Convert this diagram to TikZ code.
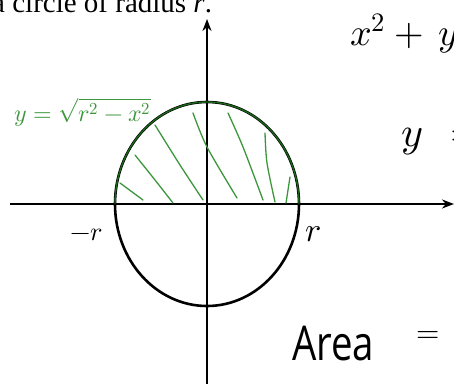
\documentclass[tikz,border=0pt]{standalone}
\usepackage{amsmath}
\usepackage{fontspec}
\usepackage{unicode-math}
\setmainfont{Liberation Serif}
\setmathfont{Latin Modern Math}
\newfontfamily\handfont{Open Sans}
\usetikzlibrary{arrows.meta}
\definecolor{hgreen}{RGB}{60,150,60}
\definecolor{dgreen}{RGB}{25,100,25}

\begin{document}
\begin{tikzpicture}[x=1pt, y=-1pt, >={Stealth[length=12pt,width=9pt]}]
		\tikzset{ax/.style={line width=2.6pt, ->}}
		\tikzset{hatch/.style={draw=hgreen, line width=1.3pt, line cap=round}}
		\tikzset{hand/.style={inner sep=0pt, anchor=base west}}
		\useasboundingbox (0,0) rectangle (454,383);
		% caption, cut by the top edge
		\node[hand, font=\fontsize{29}{29}\selectfont] (cap) at (-8,12) {a circle of radius \textit{r}.};
		% axes
		\coordinate (o) at (207,204);
		\coordinate (xl) at (10,204); \coordinate (xr) at (454,204);
		\coordinate (yb) at (207,390); \coordinate (yt) at (207,19);
		\draw[ax] (xl) -- (xr);
		\draw[ax] (yb) -- (yt);
		% circle, upper half traced in green
		\draw[line width=2.6pt] (o) ellipse [x radius=92, y radius=102];
		\coordinate (cl) at (115,204);
		\draw[dgreen, line width=1.4pt] (cl) arc [start angle=180, end angle=360, x radius=92, y radius=102];
		% shading strokes
		\draw[hatch] plot[smooth] coordinates {(120,183) (143,200)};
		\draw[hatch] plot[smooth] coordinates {(135,155) (155,180) (173,203)};
		\draw[hatch] plot[smooth] coordinates {(155,125) (180,165) (203,200)};
		\draw[hatch] plot[smooth] coordinates {(193,113) (207,147) (237,198)};
		\draw[hatch] plot[smooth] coordinates {(228,113) (243,147) (263,200)};
		\draw[hatch] plot[smooth] coordinates {(265,133) (267,163) (275,202)};
		\draw[hatch] plot[smooth] coordinates {(290,177) (286,203)};
		% labels
		\node[hand, text=hgreen, font=\fontsize{24}{24}\selectfont] (eq) at (14,121) {$y=\sqrt{r^2-x^2}$};
		\node[hand, font=\fontsize{26}{26}\selectfont] (ml) at (70,240) {$-r$};
		\node[hand, font=\fontsize{34}{34}\selectfont] (pl) at (305,241) {$r$};
		\node[hand, font=\fontsize{38}{38}\selectfont] (circ) at (350,45) {$x^2+\,y$};
		\node[hand, font=\fontsize{42}{42}\selectfont] (ydef) at (401,146) {$y\hspace{16pt}=$};
		\node[hand, font=\handfont\fontsize{48}{48}\selectfont, xscale=0.8, transform shape] (area) at (292,360) {Area};
		\node[hand, font=\fontsize{30}{30}\selectfont] (areq) at (416,342) {$=$};
\end{tikzpicture}
\end{document}
